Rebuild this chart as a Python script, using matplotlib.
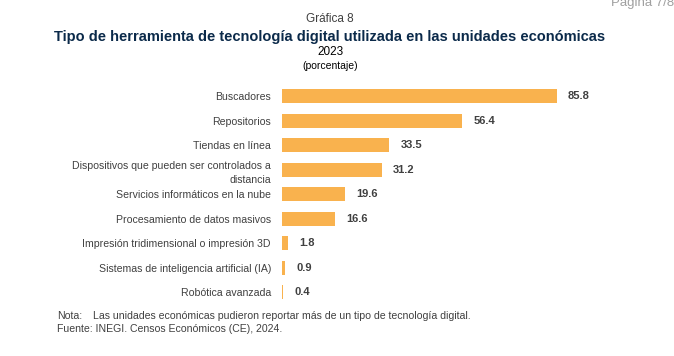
import numpy as np
import matplotlib.pyplot as plt

plt.rcParams['font.family'] = ['Liberation Sans', 'DejaVu Sans']

categorias = [
    'Buscadores',
    'Repositorios',
    'Tiendas en línea',
    'Dispositivos que pueden ser controlados a\ndistancia',
    'Servicios informáticos en la nube',
    'Procesamiento de datos masivos',
    'Impresión tridimensional o impresión 3D',
    'Sistemas de inteligencia artificial (IA)',
    'Robótica avanzada',
]
valores = [85.8, 56.4, 33.5, 31.2, 19.6, 16.6, 1.8, 0.9, 0.4]

W, H = 674, 356
fig = plt.figure(figsize=(W / 100, H / 100), dpi=100)

# axes placed in pixel terms
left, right = 282, 582
top, bottom = 83.7, 304.6
ax = fig.add_axes([left / W, 1 - bottom / H, (right - left) / W, (bottom - top) / H])

y = np.arange(len(categorias))
ax.barh(y, valores, height=0.57, color='#F9B24E')
ax.set_ylim(len(categorias) - 0.5, -0.5)
ax.set_xlim(0, (right - left) / 3.2)
ax.set_yticks(y)
ax.set_yticklabels(categorias, fontsize=7.6, color='#404040', linespacing=1.5)
ax.tick_params(axis='y', length=0, pad=8)
ax.set_xticks([])
for s in ax.spines.values():
    s.set_visible(False)

for yi, v in zip(y, valores):
    ax.text(v + 3.5, yi, f'{v:.1f}', va='center', ha='left', fontsize=8,
            fontweight='bold', color='#404040')

fig.text(330 / W, 1 - 19 / H, 'Gráfica 8', ha='center', va='center', fontsize=8.5, color='#404040')
fig.text(330 / W, 1 - 37 / H, 'Tipo de herramienta de tecnología digital utilizada en las unidades económicas',
         ha='center', va='center', fontsize=10.5, fontweight='bold', color='#0B2A4A')
fig.text(330 / W, 1 - 52 / H, '2023', ha='center', va='center', fontsize=8.5, color='#000000')
fig.text(330 / W, 1 - 66 / H, '(porcentaje)', ha='center', va='center', fontsize=7.5, color='#000000')
fig.text(674 / W, 1 - 3 / H, 'Página 7/8', ha='right', va='center', fontsize=9.5, color='#A0A0A0')

fig.text(57 / W, 1 - 316 / H, 'Nota:', ha='left', va='center', fontsize=7.6, color='#404040')
fig.text(93 / W, 1 - 316 / H, 'Las unidades económicas pudieron reportar más de un tipo de tecnología digital.',
         ha='left', va='center', fontsize=7.6, color='#404040')
fig.text(57 / W, 1 - 329 / H, 'Fuente: INEGI. Censos Económicos (CE), 2024.',
         ha='left', va='center', fontsize=7.6, color='#404040')

fig.savefig('out.png', dpi=100)
